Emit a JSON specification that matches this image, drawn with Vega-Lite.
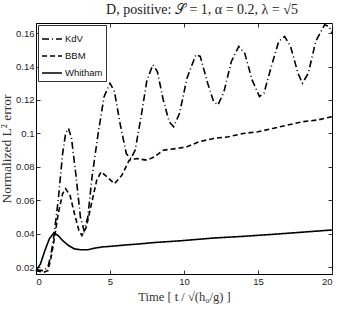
{
  "$schema": "https://vega.github.io/schema/vega-lite/v6.json",
  "width": 296,
  "height": 251,
  "autosize": "none",
  "padding": {"left": 36, "top": 23, "right": 8, "bottom": 36},
  "background": "white",
  "config": {
    "view": {"stroke": "black", "strokeWidth": 1},
    "axis": {"labelFont": "Liberation Sans", "labelFontSize": 9.5, "labelColor": "#222", "tickColor": "#333", "domainColor": "black", "grid": false, "titleFont": "Liberation Serif", "titleFontWeight": "normal", "titleFontSize": 12.5, "titleColor": "#333"}
  },
  "title": {"text": "D, positive: 𝒮 = 1,  α = 0.2,  λ = √5", "font": "Liberation Serif", "fontSize": 14, "fontWeight": "normal", "color": "#222", "offset": 4, "anchor": "middle", "dx": 18},
  "data": {"values": [
    {"s":"KdV","t":0,"v":0.0185},{"s":"KdV","t":0.5,"v":0.018},{"s":"KdV","t":0.8,"v":0.02},{"s":"KdV","t":1.0,"v":0.027},{"s":"KdV","t":1.2,"v":0.038},{"s":"KdV","t":1.5,"v":0.06},{"s":"KdV","t":1.8,"v":0.088},{"s":"KdV","t":2.0,"v":0.1},{"s":"KdV","t":2.2,"v":0.103},{"s":"KdV","t":2.4,"v":0.097},{"s":"KdV","t":2.7,"v":0.075},{"s":"KdV","t":3.0,"v":0.05},{"s":"KdV","t":3.25,"v":0.042},{"s":"KdV","t":3.5,"v":0.05},{"s":"KdV","t":3.8,"v":0.075},{"s":"KdV","t":4.2,"v":0.1},{"s":"KdV","t":4.6,"v":0.122},{"s":"KdV","t":5.0,"v":0.13},{"s":"KdV","t":5.3,"v":0.125},{"s":"KdV","t":5.7,"v":0.105},{"s":"KdV","t":6.1,"v":0.088},{"s":"KdV","t":6.4,"v":0.085},{"s":"KdV","t":6.7,"v":0.09},{"s":"KdV","t":7.1,"v":0.11},{"s":"KdV","t":7.5,"v":0.132},{"s":"KdV","t":7.9,"v":0.141},{"s":"KdV","t":8.2,"v":0.137},{"s":"KdV","t":8.6,"v":0.12},{"s":"KdV","t":9.0,"v":0.107},{"s":"KdV","t":9.3,"v":0.104},{"s":"KdV","t":9.7,"v":0.112},{"s":"KdV","t":10.2,"v":0.133},{"s":"KdV","t":10.8,"v":0.147},{"s":"KdV","t":11.1,"v":0.146},{"s":"KdV","t":11.6,"v":0.13},{"s":"KdV","t":12.0,"v":0.119},{"s":"KdV","t":12.3,"v":0.117},{"s":"KdV","t":12.7,"v":0.125},{"s":"KdV","t":13.2,"v":0.143},{"s":"KdV","t":13.7,"v":0.152},{"s":"KdV","t":14.1,"v":0.148},{"s":"KdV","t":14.6,"v":0.132},{"s":"KdV","t":15.1,"v":0.122},{"s":"KdV","t":15.4,"v":0.124},{"s":"KdV","t":15.9,"v":0.14},{"s":"KdV","t":16.4,"v":0.155},{"s":"KdV","t":16.8,"v":0.158},{"s":"KdV","t":17.2,"v":0.152},{"s":"KdV","t":17.7,"v":0.136},{"s":"KdV","t":18.0,"v":0.13},{"s":"KdV","t":18.4,"v":0.136},{"s":"KdV","t":18.9,"v":0.155},{"s":"KdV","t":19.5,"v":0.165},{"s":"KdV","t":19.8,"v":0.164},{"s":"KdV","t":20,"v":0.16},
    {"s":"BBM","t":0,"v":0.018},{"s":"BBM","t":0.5,"v":0.017},{"s":"BBM","t":0.8,"v":0.018},{"s":"BBM","t":1.0,"v":0.025},{"s":"BBM","t":1.2,"v":0.035},{"s":"BBM","t":1.5,"v":0.052},{"s":"BBM","t":1.8,"v":0.064},{"s":"BBM","t":2.0,"v":0.067},{"s":"BBM","t":2.3,"v":0.063},{"s":"BBM","t":2.6,"v":0.052},{"s":"BBM","t":2.9,"v":0.042},{"s":"BBM","t":3.1,"v":0.039},{"s":"BBM","t":3.4,"v":0.044},{"s":"BBM","t":3.8,"v":0.06},{"s":"BBM","t":4.1,"v":0.072},{"s":"BBM","t":4.4,"v":0.077},{"s":"BBM","t":4.8,"v":0.074},{"s":"BBM","t":5.3,"v":0.07},{"s":"BBM","t":5.8,"v":0.075},{"s":"BBM","t":6.3,"v":0.084},{"s":"BBM","t":6.8,"v":0.085},{"s":"BBM","t":7.5,"v":0.084},{"s":"BBM","t":8.0,"v":0.086},{"s":"BBM","t":8.6,"v":0.09},{"s":"BBM","t":9.5,"v":0.091},{"s":"BBM","t":10.2,"v":0.092},{"s":"BBM","t":11,"v":0.095},{"s":"BBM","t":12,"v":0.097},{"s":"BBM","t":13,"v":0.098},{"s":"BBM","t":14,"v":0.1},{"s":"BBM","t":15,"v":0.101},{"s":"BBM","t":16,"v":0.103},{"s":"BBM","t":17,"v":0.105},{"s":"BBM","t":18,"v":0.107},{"s":"BBM","t":19,"v":0.108},{"s":"BBM","t":20,"v":0.11},
    {"s":"Whitham","t":0,"v":0.018},{"s":"Whitham","t":0.3,"v":0.022},{"s":"Whitham","t":0.6,"v":0.03},{"s":"Whitham","t":0.9,"v":0.037},{"s":"Whitham","t":1.2,"v":0.0405},{"s":"Whitham","t":1.5,"v":0.039},{"s":"Whitham","t":1.8,"v":0.036},{"s":"Whitham","t":2.2,"v":0.033},{"s":"Whitham","t":2.6,"v":0.031},{"s":"Whitham","t":3.0,"v":0.0305},{"s":"Whitham","t":3.5,"v":0.0305},{"s":"Whitham","t":4.0,"v":0.0315},{"s":"Whitham","t":4.5,"v":0.0322},{"s":"Whitham","t":5.0,"v":0.0325},{"s":"Whitham","t":6.0,"v":0.0333},{"s":"Whitham","t":7,"v":0.034},{"s":"Whitham","t":8,"v":0.0348},{"s":"Whitham","t":10,"v":0.036},{"s":"Whitham","t":12,"v":0.0375},{"s":"Whitham","t":14,"v":0.0385},{"s":"Whitham","t":16,"v":0.0397},{"s":"Whitham","t":18,"v":0.041},{"s":"Whitham","t":20,"v":0.0423}
  ]},
  "layer": [
    {
      "mark": {"type": "line", "color": "black", "strokeWidth": 1.6},
      "encoding": {
        "x": {"field": "t", "type": "quantitative", "scale": {"domain": [0, 20], "nice": false}, "axis": {"values": [0, 5, 10, 15, 20], "tickSize": -4, "labelPadding": 6, "title": "Time  [ t / √(h₀/g) ]", "titlePadding": 5}},
        "y": {"field": "v", "type": "quantitative", "scale": {"domain": [0.016, 0.166], "nice": false, "zero": false}, "axis": {"values": [0.02, 0.04, 0.06, 0.08, 0.1, 0.12, 0.14, 0.16], "format": "~g", "tickSize": -4, "labelPadding": 6, "title": "Normalized  L² error", "titleFontSize": 13.5, "titlePadding": 2}},
        "strokeDash": {"field": "s", "type": "nominal", "scale": {"domain": ["KdV", "BBM", "Whitham"], "range": [[7, 3, 1, 3], [5, 3], [1, 0]]},
          "legend": {"title": null, "orient": "top-left", "offset": 2, "fillColor": "white", "strokeColor": "#333", "padding": 3, "symbolType": "stroke", "symbolSize": 400, "symbolStrokeWidth": 1.5, "symbolStrokeColor": "black", "labelFont": "Liberation Sans", "labelFontSize": 9.5, "labelColor": "#111", "rowPadding": 1, "labelOffset": 2}}
      }
    },
    {
      "mark": {"type": "line", "strokeOpacity": 0},
      "encoding": {
        "x": {"field": "t", "type": "quantitative", "axis": {"orient": "top", "values": [0, 5, 10, 15, 20], "tickSize": -4, "labels": false, "domain": false, "title": null}},
        "y": {"field": "v", "type": "quantitative", "axis": {"orient": "right", "values": [0.02, 0.04, 0.06, 0.08, 0.1, 0.12, 0.14, 0.16], "tickSize": -4, "labels": false, "domain": false, "title": null}},
        "detail": {"field": "s"}
      }
    }
  ],
  "resolve": {"axis": {"x": "independent", "y": "independent"}}
}
